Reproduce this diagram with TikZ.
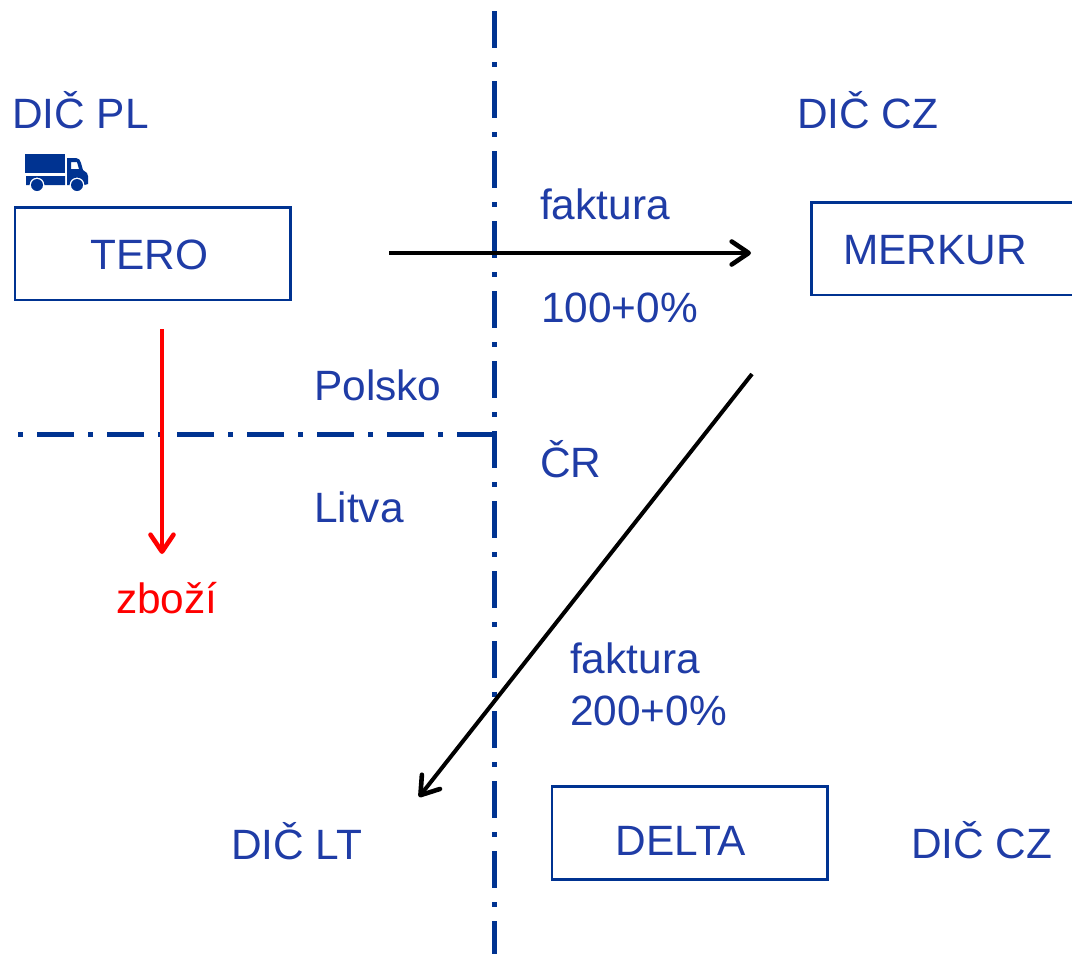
\documentclass[tikz,border=0pt]{standalone}
\usepackage{fontspec}
\setmainfont{Liberation Sans}
\usetikzlibrary{arrows.meta}
\definecolor{linec}{HTML}{003391}
\definecolor{textc}{HTML}{1F3CA6}
\tikzset{
  x=1pt,y=-1pt,
  lab/.style={anchor=base west,inner sep=0pt,text=textc,font=\fontsize{42.4}{42.4}\selectfont},
  boxlab/.style={anchor=base,inner sep=0pt,text=textc,font=\fontsize{42.4}{42.4}\selectfont},
  border/.style={draw=linec,line width=2.7pt,line cap=rect},
  axis/.style={draw=linec,line width=5pt,dash pattern=on 37pt off 14pt on 5pt off 14pt},
  conn/.style={line width=4pt,-{Straight Barb[length=17pt,width=23pt,line width=4.6pt,round]}},
}
\begin{document}
\begin{tikzpicture}
\useasboundingbox (0,0) rectangle (1072,954);
% axes
\coordinate (vtop) at (494,11);
\coordinate (vbot) at (494,954);
\coordinate (hright) at (494,434);
\coordinate (hleft) at (18,434);
\draw[axis] (vtop) -- (vbot);
\draw[axis] (hright) -- (hleft);
% boxes
\draw[border] (15,207.5) rectangle (290.5,300);
\draw[border] (811.5,202.5) rectangle (1080,295);
\draw[border] (552,786.5) rectangle (827.5,879.5);
\node[boxlab] (tero) at (149.5,269) {TERO};
\node[boxlab] (merkur) at (935,264) {MERKUR};
\node[boxlab] (delta) at (681,855) {DELTA};
% labels
\node[lab] (dicpl) at (12,128.5) {DIČ PL};
\node[lab] (diccz) at (797,128.5) {DIČ CZ};
\node[lab] (fak1) at (540,219) {faktura};
\node[lab] (sto) at (541,322) {100+0\%};
\node[lab] (pol) at (314,400) {Polsko};
\node[lab] (cr) at (540,477) {ČR};
\node[lab] (lit) at (314,522) {Litva};
\node[lab,text=red] (zbozi) at (116,613) {zboží};
\node[lab] (fak2) at (570,673) {faktura};
\node[lab] (dvesta) at (570,725) {200+0\%};
\node[lab] (diclt) at (231,859) {DIČ LT};
\node[lab] (diccz2) at (911,858) {DIČ CZ};
% connectors
\coordinate (a1s) at (389,253);
\coordinate (a1e) at (751,253);
\coordinate (a2s) at (752,374);
\coordinate (a2e) at (419,797);
\coordinate (a3s) at (162,329);
\coordinate (a3e) at (162,554);
\draw[conn] (a1s) -- (a1e);
\draw[conn] (a2s) -- (a2e);
\draw[conn,draw=red] (a3s) -- (a3e);
% truck
\fill[linec] (25,154) rectangle (65,173);
\fill[linec] (26,176) -- (65,176) -- (65,185) -- (44.5,185) arc[start angle=0,end angle=-180,radius=7.5] -- (26,185) -- cycle;
\fill[linec,even odd rule] (67,158) -- (76,158) .. controls (79,158) and (80,160) .. (81,163) -- (83,170) -- (87,173) -- (88,176) -- (88,184) -- (84.5,185) arc[start angle=0,end angle=-180,radius=7.5] -- (67,185) -- cycle (71,162) -- (77,162) -- (79,169) -- (71,169) -- cycle;
\fill[linec] (37,185) circle (6);
\fill[linec] (77,185) circle (6);
\end{tikzpicture}
\end{document}
